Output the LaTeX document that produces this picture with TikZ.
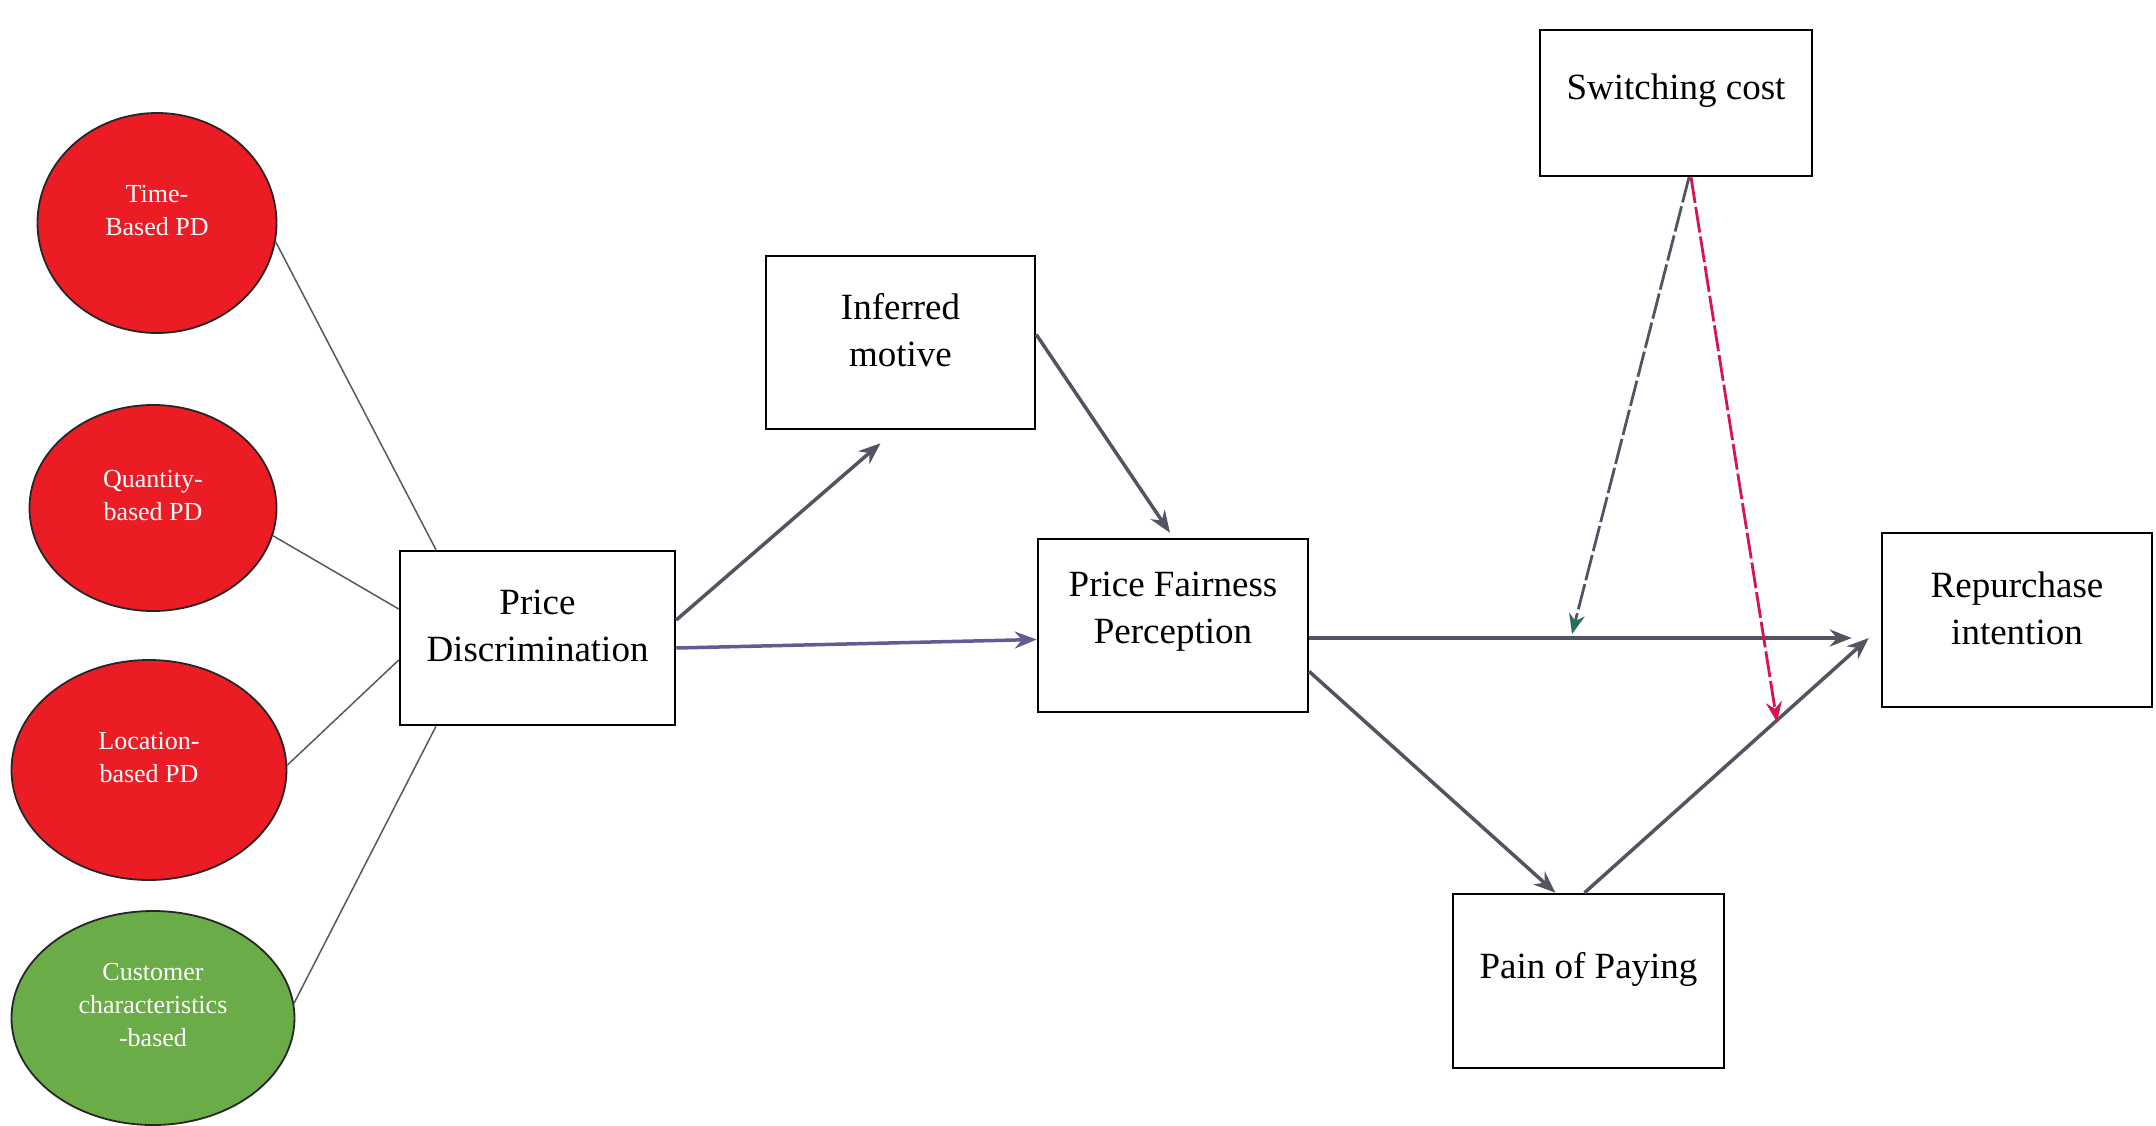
\documentclass[tikz,border=0pt]{standalone}
\usepackage{fontspec}
\setmainfont{Liberation Serif}
\usetikzlibrary{arrows.meta,shapes.geometric}

\definecolor{pdred}{RGB}{236,28,36}
\definecolor{pdgreen}{RGB}{106,172,72}
\definecolor{arrowgray}{RGB}{82,84,98}
\definecolor{arrowblue}{RGB}{98,92,150}
\definecolor{modteal}{RGB}{40,110,90}
\definecolor{modred}{RGB}{214,20,80}

\begin{document}
\begin{tikzpicture}[x=1pt,y=-1pt,
  varbox/.style={draw=black,line width=2.5pt,fill=white,inner sep=0pt},
  pdoval/.style={ellipse,draw=black!85,line width=1.8pt,inner sep=0pt},
  boxtext/.style={align=center,font=\fontsize{37}{47}\selectfont,inner sep=0pt},
  ovaltext/.style={align=center,text=white,font=\fontsize{26}{33}\selectfont,inner sep=0pt},
  link/.style={draw=black!65,line width=1.5pt},
  effect/.style={draw=arrowgray,line width=3.5pt,-{Stealth[length=22pt,width=17pt]}},
  moderator/.style={line width=2.8pt,dash pattern=on 26pt off 4pt}
]
\fill[white] (0,0) rectangle (2156,1125);
\useasboundingbox (0,0) rectangle (2156,1125);

% forms of price discrimination
\node[pdoval,fill=pdred,minimum width=239pt,minimum height=220pt] (time) at (157,223) {};
\node[ovaltext] (time-t) at (157,211) {Time-\\Based PD};
\node[pdoval,fill=pdred,minimum width=247pt,minimum height=206pt] (qty) at (153,508) {};
\node[ovaltext] (qty-t) at (153,496) {Quantity-\\based PD};
\node[pdoval,fill=pdred,minimum width=275pt,minimum height=220pt] (loc) at (149,770) {};
\node[ovaltext] (loc-t) at (149,758) {Location-\\based PD};
\node[pdoval,fill=pdgreen,minimum width=283pt,minimum height=214pt] (cust) at (153,1018) {};
\node[ovaltext] (cust-t) at (153,1005) {Customer\\characteristics\\-based};

% constructs
\node[varbox,minimum width=275pt,minimum height=174pt] (pd) at (537.5,638) {};
\node[boxtext] (pd-t) at (537.5,626) {Price\\Discrimination};
\node[varbox,minimum width=269pt,minimum height=173pt] (im) at (900.5,342.5) {};
\node[boxtext] (im-t) at (900.5,330) {Inferred\\motive};
\node[varbox,minimum width=270pt,minimum height=173pt] (pfp) at (1173,625.5) {};
\node[boxtext] (pfp-t) at (1173,612) {Price Fairness\\Perception};
\node[varbox,minimum width=272pt,minimum height=146pt] (sw) at (1676,103) {};
\node[boxtext] (sw-t) at (1676,91) {Switching cost};
\node[varbox,minimum width=270pt,minimum height=174pt] (ri) at (2017,620) {};
\node[boxtext] (ri-t) at (2017,608) {Repurchase\\intention};
\node[varbox,minimum width=271pt,minimum height=174pt] (pain) at (1588.5,981) {};
\node[boxtext] (pain-t) at (1588.5,969) {Pain of Paying};

% links from the forms to price discrimination
\draw[link] (time.-9) -- ([xshift=-101.5pt]pd.north);
\draw[link] (qty.-13) -- ([yshift=29pt]pd.west);
\draw[link] (loc.2) -- ([yshift=-22pt]pd.west);
\draw[link] (cust.6) -- ([xshift=-101.5pt]pd.south);

% direct effects
\draw[effect] ([yshift=18pt]pd.east) -- ([xshift=-20pt,yshift=-13pt]im.south);
\draw[effect,draw=arrowblue] ([yshift=-10pt]pd.east) -- ([yshift=-14pt]pfp.west);
\draw[effect] ([yshift=8pt]im.east) -- ([xshift=-3pt,yshift=5pt]pfp.north);
\coordinate (rihead) at ([xshift=-29pt,yshift=-18pt]ri.west);
\coordinate (rihead2) at ([xshift=-12pt,yshift=-18pt]ri.west);
\draw[effect] ([yshift=-12.5pt]pfp.east) -- (rihead);
\draw[effect] ([yshift=-46pt]pfp.east) -- ([xshift=-33pt]pain.north);
\draw[effect] ([xshift=-4pt]pain.north) -- (rihead2);

% moderating effects of switching cost
\coordinate (mod1) at (1572,634);
\coordinate (mod2) at (1777,722);
\draw[moderator,draw=arrowgray,-{Stealth[length=20pt,width=16pt,fill=modteal,color=modteal]}] ([xshift=13pt]sw.south) -- (mod1);
\draw[moderator,draw=modred,-{Stealth[length=20pt,width=16pt]}] ([xshift=15pt]sw.south) -- (mod2);
\end{tikzpicture}
\end{document}
